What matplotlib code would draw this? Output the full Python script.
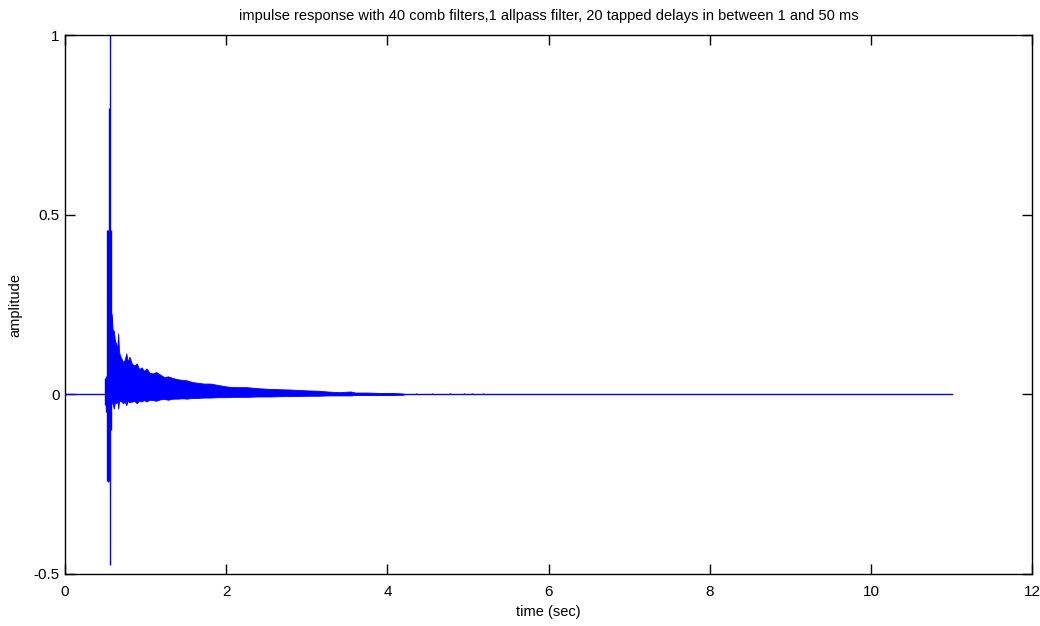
import matplotlib
matplotlib.use("Agg")
import matplotlib.pyplot as plt

# Baseline of the response (zero from start to end of the recording)
base_t = [0.0, 11.0]
base_v = [0.0, 0.0]

# Early spikes of the impulse response (time, low, high)
spike_t = [0.496, 0.509, 0.521, 0.533, 0.546, 0.558, 0.571]
spike_lo = [-0.03, -0.05, -0.24, -0.245, -0.24, -0.475, -0.10]
spike_hi = [0.045, 0.05, 0.457, 0.457, 0.797, 1.0, 0.457]

# Decaying tail envelope
env_t = [0.575, 0.585, 0.595, 0.605, 0.62, 0.635, 0.65, 0.66, 0.67,
         0.68, 0.70, 0.72, 0.74, 0.76, 0.78, 0.80, 0.83, 0.86, 0.89, 0.92, 0.95,
         0.98, 1.01, 1.05, 1.09, 1.13, 1.18, 1.23, 1.28, 1.34, 1.40, 1.46, 1.51,
         1.58, 1.65, 1.72, 1.80, 1.90, 2.00, 2.10, 2.25, 2.40, 2.55, 2.70, 2.83,
         3.00, 3.15, 3.25, 3.40, 3.54, 3.60, 3.75, 3.90, 4.07, 4.20]
env_hi = [0.225, 0.20, 0.17, 0.178, 0.15, 0.14, 0.13, 0.17, 0.12,
          0.11, 0.10, 0.09, 0.095, 0.114, 0.09, 0.105, 0.085, 0.08, 0.086, 0.07, 0.075,
          0.065, 0.072, 0.06, 0.058, 0.062, 0.055, 0.048, 0.05, 0.045, 0.042, 0.04, 0.039,
          0.034, 0.032, 0.030, 0.030, 0.026, 0.022, 0.020, 0.020, 0.017, 0.015, 0.014, 0.013,
          0.011, 0.010, 0.008, 0.006, 0.008, 0.005, 0.005, 0.004, 0.004, 0.002]
env_lo = [-0.02, -0.025, -0.03, -0.04, -0.02, -0.025, -0.015, -0.04, -0.02,
          -0.018, -0.02, -0.025, -0.02, -0.03, -0.018, -0.022, -0.02, -0.018, -0.025, -0.017, -0.02,
          -0.016, -0.02, -0.015, -0.016, -0.018, -0.014, -0.013, -0.015, -0.012, -0.012, -0.011, -0.012,
          -0.01, -0.01, -0.009, -0.009, -0.008, -0.008, -0.007, -0.007, -0.006, -0.006, -0.005, -0.005,
          -0.004, -0.004, -0.003, -0.003, -0.003, -0.002, -0.002, -0.002, -0.002, -0.001]

# Small late blips in the tail
blip_t = [4.35, 4.55, 4.78, 4.95, 5.05, 5.19]
blip_hi = [0.004, 0.003, 0.005, 0.003, 0.004, 0.003]

xticks = [0, 2, 4, 6, 8, 10, 12]
yticks = [-0.5, 0, 0.5, 1]

BLUE = "#0000ff"
plt.rcParams['font.family'] = ['Liberation Sans Narrow', 'Liberation Sans', 'DejaVu Sans']

fig = plt.figure(figsize=(10.4, 6.26), dpi=100)
ax = fig.add_axes([0.0625, 0.0831, 0.93, 0.8609])

ax.plot(base_t, base_v, color=BLUE, linewidth=1.0)
ax.fill_between(env_t, env_lo, env_hi, color=BLUE, linewidth=0.6, edgecolor=BLUE)
ax.vlines(spike_t, spike_lo, spike_hi, color=BLUE, linewidth=1.0)
ax.vlines(blip_t, 0, blip_hi, color=BLUE, linewidth=1.0)

ax.set_xlim(0, 12)
ax.set_ylim(-0.5, 1)
ax.set_xticks(xticks)
ax.set_xticklabels([str(t) for t in xticks])
ax.set_yticks(yticks)
ax.set_yticklabels(['-0.5', '0', '0.5', '1'])
ax.tick_params(direction='in', length=7, width=1, top=True, right=True,
               labelsize=11)
ax.tick_params(axis='x', pad=8)
ax.tick_params(axis='y', pad=4)
for s in ax.spines.values():
    s.set_linewidth(1.0)
    s.set_color('black')

ax.set_title("impulse response with 40 comb filters,1 allpass filter, 20 tapped delays in between 1 and 50 ms",
             fontsize=10.5, pad=11)
ax.set_xlabel("time (sec)", fontsize=10.5, labelpad=4)
ax.set_ylabel("amplitude", fontsize=10.5, labelpad=8)

fig.savefig("out.png", dpi=100)
